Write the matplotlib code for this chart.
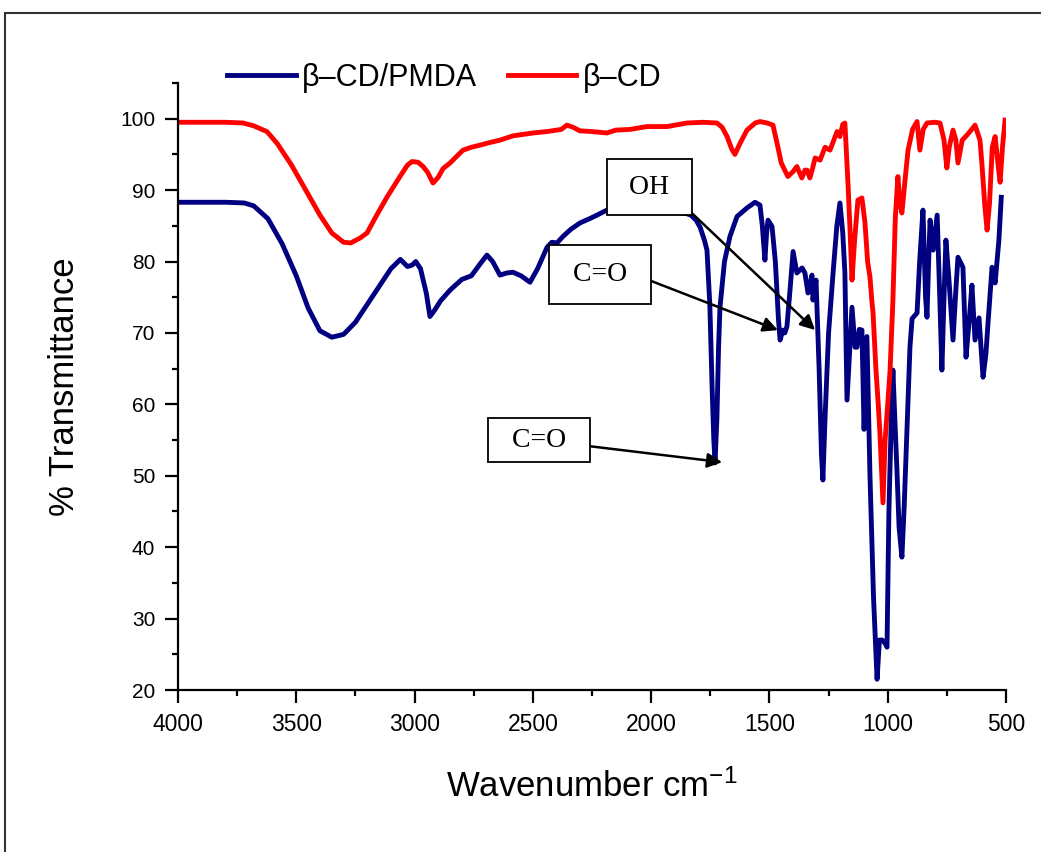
import matplotlib.pyplot as plt
from matplotlib.patches import Rectangle
from matplotlib.ticker import MultipleLocator

plt.rcParams['font.family'] = ['Liberation Sans', 'DejaVu Sans']
plt.rcParams['mathtext.default'] = 'regular'

# FTIR spectrum of beta-CD/PMDA (wavenumber cm-1, % transmittance)
wn_pmda = [4000, 3900, 3800, 3720, 3680, 3620, 3560, 3500, 3450, 3400, 3350, 3300, 3250,
           3200, 3150, 3100, 3060, 3030, 3010, 2995, 2975, 2950, 2935, 2915, 2890, 2850,
           2800, 2760, 2720, 2694, 2670, 2639, 2610, 2584, 2550, 2512, 2480, 2440, 2420,
           2398, 2373, 2340, 2301, 2260, 2229, 2187, 2150, 2100, 2050, 2000, 1950, 1900,
           1850, 1832, 1810, 1793, 1775, 1764, 1752, 1742, 1735, 1730, 1722, 1715, 1709,
           1690, 1667, 1637, 1595, 1561, 1540, 1530, 1519, 1512, 1506, 1489, 1475, 1462,
           1455, 1443, 1435, 1426, 1413, 1400, 1384, 1362, 1350, 1337, 1320, 1316, 1303,
           1290, 1280, 1274, 1265, 1250, 1231, 1215, 1202, 1190, 1181, 1172, 1160, 1151,
           1138, 1130, 1120, 1109, 1100, 1095, 1088, 1075, 1060, 1045, 1035, 1024, 1010,
           1003, 995, 985, 978, 970, 961, 952, 940, 930, 920, 906, 897, 876, 865, 851,
           840, 834, 827, 821, 808, 791, 780, 771, 762, 754, 741, 724, 712, 703, 682, 669,
           655, 644, 631, 614, 597, 585, 576, 559, 546, 530, 520]
t_pmda = [88.3, 88.3, 88.3, 88.2, 87.8, 86.0, 82.5, 78.0, 73.5, 70.3, 69.4, 69.8, 71.5,
          74.0, 76.5, 79.0, 80.3, 79.3, 79.5, 80.0, 79.0, 75.5, 72.3, 73.2, 74.5, 76.0,
          77.5, 78.0, 79.8, 80.9, 80.0, 78.1, 78.4, 78.5, 78.0, 77.1, 79.0, 82.0, 82.7,
          82.6, 83.5, 84.5, 85.4, 86.0, 86.5, 87.2, 87.3, 87.3, 87.3, 87.2, 87.0, 86.9,
          86.7, 86.5, 85.8, 84.8, 83.0, 81.6, 74.0, 62.0, 55.0, 51.8, 58.0, 68.0, 73.6,
          80.0, 83.5, 86.3, 87.5, 88.3, 87.9, 85.0, 80.2, 84.0, 85.8, 84.9, 80.0, 72.0,
          69.0, 70.4, 70.0, 70.9, 76.0, 81.4, 78.4, 79.1, 78.4, 75.6, 78.1, 74.6, 77.4,
          65.0, 53.0, 49.4, 58.0, 70.0, 78.4, 85.0, 88.2, 84.0, 78.4, 60.6, 68.0, 73.6,
          68.0, 68.0, 70.5, 70.4, 56.5, 62.0, 69.5, 50.0, 33.0, 21.5, 27.0, 27.0, 26.5,
          26.0, 45.0, 58.0, 64.8, 58.0, 50.8, 42.8, 38.6, 46.0, 55.0, 68.0, 72.0, 72.8, 80.0, 87.2,
          75.0, 72.2, 80.0, 85.8, 81.6, 86.5, 75.0, 64.8, 75.0, 83.0, 77.4, 69.0, 76.0, 80.6, 79.2, 66.6,
          72.0, 76.7, 69.0, 72.1, 63.8, 67.0, 71.4, 79.2, 77.0, 83.0, 89.0]

# FTIR spectrum of beta-CD
wn_cd = [4000, 3900, 3800, 3725, 3680, 3624, 3580, 3520, 3460, 3400, 3350, 3300, 3270,
         3230, 3201, 3160, 3117, 3060, 3030, 3011, 2985, 2964, 2945, 2922, 2900, 2880,
         2850, 2820, 2795, 2760, 2723, 2690, 2639, 2584, 2500, 2440, 2380, 2356, 2330,
         2301, 2250, 2187, 2150, 2089, 2018, 1933, 1848, 1780, 1722, 1700, 1679, 1660,
         1646, 1625, 1595, 1560, 1540, 1510, 1485, 1468, 1450, 1422, 1400, 1384, 1363,
         1350, 1341, 1329, 1318, 1307, 1286, 1265, 1244, 1230, 1214, 1202, 1190, 1181,
         1168, 1160, 1151, 1140, 1126, 1109, 1096, 1085, 1075, 1067, 1062, 1050, 1040,
         1033, 1025, 1020, 1014, 1011, 1000, 990, 978, 968, 957, 948, 940, 925, 914, 895,
         876, 864, 850, 834, 800, 779, 762, 750, 740, 724, 712, 703, 685, 665, 645, 631,
         610, 601, 590, 580, 570, 558, 546, 535, 525, 515, 504]
t_cd = [99.5, 99.5, 99.5, 99.4, 99.0, 98.2, 96.5, 93.5, 90.0, 86.5, 84.0, 82.7, 82.6,
        83.3, 84.0, 86.5, 89.0, 92.0, 93.5, 94.0, 93.9, 93.3, 92.5, 91.0, 91.8, 93.0,
        93.8, 94.8, 95.6, 96.0, 96.3, 96.6, 97.0, 97.6, 98.0, 98.2, 98.5, 99.1, 98.8,
        98.3, 98.2, 98.0, 98.4, 98.5, 98.9, 98.9, 99.4, 99.5, 99.4, 98.8, 97.5, 95.8,
        95.0, 96.5, 98.4, 99.4, 99.6, 99.4, 99.1, 96.6, 93.8, 91.9, 92.6, 93.3, 91.7,
        92.8, 92.8, 91.7, 93.0, 94.5, 94.2, 96.0, 95.6, 96.8, 98.2, 97.5, 99.2, 99.4,
        91.0, 85.0, 77.4, 83.0, 88.6, 88.9, 85.4, 80.0, 77.8, 74.5, 72.8, 65.0, 60.0,
        56.0, 50.0, 46.2, 52.0, 55.0, 60.0, 64.8, 74.6, 86.0, 91.9, 88.0, 86.8, 92.0, 95.6, 98.5,
        99.6, 95.6, 98.5, 99.4, 99.5, 99.4, 97.0, 93.1, 96.0, 98.4, 97.0, 93.8, 97.0, 97.7, 98.5, 99.1,
        97.0, 93.3, 88.0, 84.4, 88.0, 96.0, 97.5, 94.0, 91.1, 96.0, 99.8]

# band labels: text, box position, arrow tip, arrow start on box, box padding
notes = [(" OH ", (2007, 90.4), (1307, 70.4), (1.0, 0.05), 0.56),
         (" C=O ", (2216, 78.2), (1464, 70.4), (1.0, 0.5), 0.6),
         ("  C=O  ", (2474, 55.0), (1700, 51.9), (1.0, 0.3), 0.35)]

fig = plt.figure(figsize=(10.41, 8.52), dpi=100)
ax = fig.add_axes([178 / 1041, 1 - 690 / 852, (1006 - 178) / 1041, (690 - 83) / 852])

ax.plot(wn_pmda, t_pmda, color='#000080', lw=3.5, label='β–CD/PMDA', solid_joinstyle='round')
ax.plot(wn_cd, t_cd, color='#ff0000', lw=3.5, label='β–CD', solid_joinstyle='round')

for txt, xy_text, xy_tip, rp, pad in notes:
    ax.annotate(txt, xy=xy_tip, xytext=xy_text, ha='center', va='center',
                fontsize=20, family='Liberation Serif',
                bbox=dict(boxstyle=f'square,pad={pad}', fc='white', ec='black', lw=1.3),
                arrowprops=dict(arrowstyle='-|>', color='black', lw=1.8,
                                mutation_scale=22, relpos=rp, shrinkA=0, shrinkB=0))

ax.set_xlim(4000, 500)
ax.set_ylim(20, 105)
ax.xaxis.set_major_locator(MultipleLocator(500))
ax.xaxis.set_minor_locator(MultipleLocator(250))
ax.set_yticks(range(20, 101, 10))
ax.set_yticks(range(25, 106, 10), minor=True)

for s in ['top', 'right']:
    ax.spines[s].set_visible(False)
for s in ['left', 'bottom']:
    ax.spines[s].set_linewidth(1.6)

ax.tick_params(which='both', direction='out', width=1.6)
ax.tick_params(which='major', length=9.4)
ax.tick_params(which='minor', length=4.5)
ax.tick_params(axis='x', pad=7, labelsize=16.5)
ax.tick_params(axis='y', pad=7, labelsize=15)

ax.set_xlabel('Wavenumber cm$^{-1}$', fontsize=25, labelpad=24)
ax.set_ylabel('% Transmittance', fontsize=25, labelpad=28)

fig.legend(loc='center left', bbox_to_anchor=(227 / 1041, 1 - 78 / 852), ncol=2,
           frameon=False, fontsize=22, handlelength=2.25, handletextpad=0.2,
           columnspacing=1.0, borderpad=0, borderaxespad=0)

# outer frame of the original figure
fig.patches.append(Rectangle((5 / 1041, -0.2), 1.5, 0.2 + 1 - 13 / 852, transform=fig.transFigure,
                             fill=False, ec='#333333', lw=1.5))

fig.savefig('out.png', dpi=100)
